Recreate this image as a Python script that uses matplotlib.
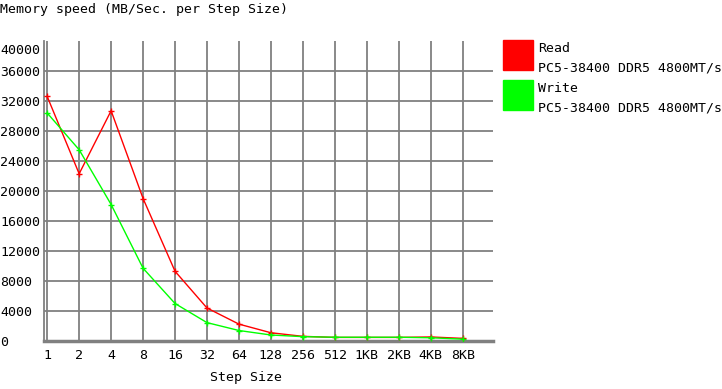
import matplotlib.pyplot as plt
import matplotlib.transforms as mtransforms
import numpy as np

plt.rcParams['font.family'] = ['DejaVu Sans Mono']
plt.rcParams['font.size'] = 9.5

# data
step_sizes = ['1', '2', '4', '8', '16', '32', '64', '128', '256', '512',
              '1KB', '2KB', '4KB', '8KB']
read_speed = [32600, 22300, 30700, 19000, 9300, 4400, 2250, 1100, 620,
              480, 480, 480, 540, 350]
write_speed = [30400, 25500, 18200, 9700, 5000, 2450, 1400, 800, 580,
               500, 500, 500, 430, 250]
y_ticks = list(range(0, 40001, 4000))
series_note = 'PC5-38400 DDR5 4800MT/s'

grid_col = '#808080'

fig = plt.figure(figsize=(7.22, 3.89), dpi=100)
ax = fig.add_axes([44 / 722, 1 - 341 / 389, (493 - 44) / 722, (341 - 41) / 389])

x = np.arange(len(step_sizes))
ax.plot(x, read_speed, color='#ff0000', lw=1, marker='+', ms=5, mew=1, zorder=3)
ax.plot(x, write_speed, color='#00ff00', lw=1, marker='+', ms=5, mew=1, zorder=4)

ax.set_xlim(-0.1, 13.95)
ax.set_ylim(0, 40000)
ax.set_xticks(x)
ax.set_xticklabels(step_sizes)
ax.set_yticks(y_ticks)
ax.set_yticklabels([str(v) for v in y_ticks])

ax.grid(True, color=grid_col, lw=1.3)
ax.set_axisbelow(True)
ax.get_ygridlines()[-1].set_visible(False)

ax.tick_params(axis='both', length=0, colors='black', labelsize=9.5)
ax.tick_params(axis='x', pad=6)
ax.tick_params(axis='y', pad=31.5)
for lab in ax.get_yticklabels():
    lab.set_horizontalalignment('left')
# the top label sits a bit lower than its grid position
top = ax.get_yticklabels()[-1]
top.set_transform(top.get_transform() +
                  mtransforms.ScaledTranslation(0, -8 / 100, fig.dpi_scale_trans))

for s in ['top', 'right']:
    ax.spines[s].set_visible(False)
ax.spines['left'].set_color(grid_col)
ax.spines['left'].set_linewidth(1.3)
ax.spines['bottom'].set_color(grid_col)
ax.spines['bottom'].set_linewidth(2.5)

ax.set_xlabel('Step Size', fontsize=9.5)
ax.xaxis.set_label_coords(0.45, -0.10)

fig.text(0, 1 - 10 / 389, 'Memory speed (MB/Sec. per Step Size)',
         ha='left', va='center', fontsize=9.5)

# legend boxes drawn at the right side
for i, (name, col) in enumerate([('Read', '#ff0000'), ('Write', '#00ff00')]):
    y0 = 40 + i * 40
    fig.patches.append(plt.Rectangle((503 / 722, 1 - (y0 + 30) / 389), 30 / 722, 30 / 389,
                                     transform=fig.transFigure, color=col, figure=fig))
    fig.text(538 / 722, 1 - (y0 + 9) / 389, name, ha='left', va='center', fontsize=9.5)
    fig.text(538 / 722, 1 - (y0 + 28) / 389, series_note, ha='left', va='center', fontsize=9.5)

fig.savefig('out.png', dpi=100)
